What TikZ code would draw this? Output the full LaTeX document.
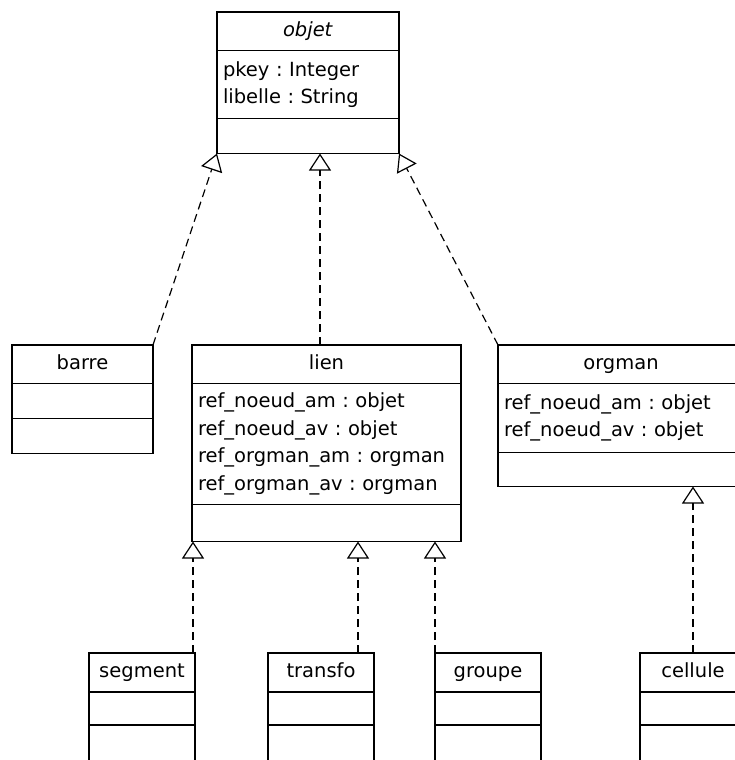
\documentclass[tikz,border=0pt]{standalone}
\usepackage{fontspec}
\setmainfont{DejaVu Sans}
\usetikzlibrary{arrows.meta, positioning}
\frenchspacing

\begin{document}
\begin{tikzpicture}[
    x=1pt, y=-1pt,
    node distance=0pt,
    box/.style={rectangle, draw, line width=1.2pt, outer sep=0pt, inner sep=0pt, fill=white, font=\fontsize{19.5pt}{27.5pt}\selectfont},
    classhead/.style={box, minimum width=#1, minimum height=38.5pt, text height=14.5pt, text depth=4pt},
    attrs/.style={box, inner xsep=6pt, text width=#1, align=left},
    ops/.style={box, minimum width=#1, minimum height=35pt},
    realize/.style={dash pattern=on 8pt off 5pt, line width=1.2pt, -{Triangle[open, length=17pt, width=22pt]}}
]
    \clip (0,0) rectangle (735,760);

    % Top class
    \node[classhead=182pt, anchor=north west] (objet) at (217,12) {\textit{objet}};
    \node[attrs=170pt, minimum height=68pt, below=of objet] (objetattr) {pkey : Integer\\libelle : String};
    \node[ops=182pt, below=of objetattr] (objetops) {};

    % Middle row
    \node[classhead=141pt, anchor=north west] (barre) at (12,345) {barre};
    \node[ops=141pt, below=of barre] (barreattr) {};
    \node[ops=141pt, below=of barreattr] (barreops) {};

    \node[classhead=269pt, right=39pt of barre] (lien) {lien};
    \node[attrs=257pt, minimum height=121pt, below=of lien] (lienattr) {ref\_noeud\_am : objet\\ref\_noeud\_av : objet\\ref\_orgman\_am : orgman\\ref\_orgman\_av : orgman};
    \node[ops=269pt, minimum height=37pt, below=of lienattr] (lienops) {};

    \node[classhead=246pt, right=37pt of lien] (orgman) {orgman};
    \node[attrs=234pt, minimum height=69pt, below=of orgman] (orgmanattr) {ref\_noeud\_am : objet\\ref\_noeud\_av : objet};
    \node[ops=246pt, minimum height=34pt, below=of orgmanattr] (orgmanops) {};

    % Bottom row
    \node[classhead=106pt, minimum height=39pt, anchor=north west] (segment) at (89,653) {segment};
    \node[ops=106pt, minimum height=33pt, below=of segment] (segmentattr) {};
    \node[ops=106pt, minimum height=60pt, below=of segmentattr] (segmentops) {};

    \node[classhead=106pt, minimum height=39pt, right=73pt of segment] (transfo) {transfo};
    \node[ops=106pt, minimum height=33pt, below=of transfo] (transfoattr) {};
    \node[ops=106pt, minimum height=60pt, below=of transfoattr] (transfoops) {};

    \node[classhead=106pt, minimum height=39pt, right=61pt of transfo] (groupe) {groupe};
    \node[ops=106pt, minimum height=33pt, below=of groupe] (groupeattr) {};
    \node[ops=106pt, minimum height=60pt, below=of groupeattr] (groupeops) {};

    \node[classhead=106pt, minimum height=39pt, right=99pt of groupe] (cellule) {cellule};
    \node[ops=106pt, minimum height=33pt, below=of cellule] (celluleattr) {};
    \node[ops=106pt, minimum height=60pt, below=of celluleattr] (celluleops) {};

    % Realizations
    \draw[realize] (barre.north east) -- (objetops.south west);
    \draw[realize] ([xshift=-6.5pt]lien.north) -- ([xshift=-6.5pt]lien.north |- objetops.south);
    \draw[realize] (orgman.north west) -- (objetops.south east);
    \draw[realize] ([xshift=-2pt]segment.north east) -- ([xshift=-2pt]segment.north east |- lienops.south);
    \draw[realize] ([xshift=-16pt]transfo.north east) -- ([xshift=-16pt]transfo.north east |- lienops.south);
    \draw[realize] (groupe.north west) -- (groupe.north west |- lienops.south);
    \draw[realize] (cellule.north) -- (cellule.north |- orgmanops.south);
\end{tikzpicture}
\end{document}
